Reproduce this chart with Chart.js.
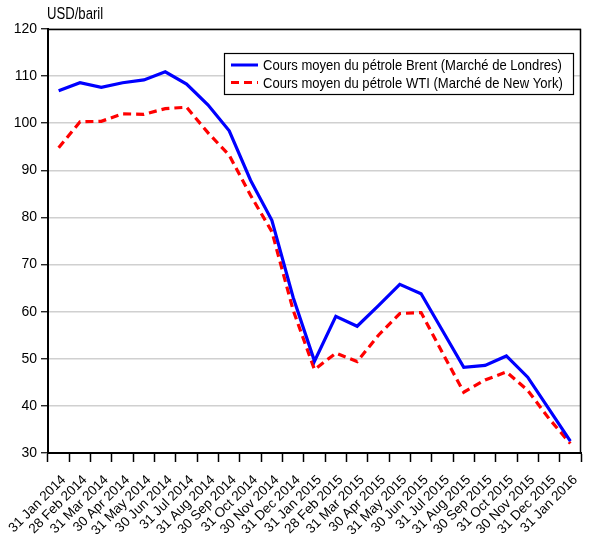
<!DOCTYPE html>
<html>
<head>
<meta charset="utf-8">
<script src="https://cdn.jsdelivr.net/npm/chart.js@4"></script>
<style>
  html, body { margin: 0; padding: 0; background: #fff; }
  #wrap { width: 590px; height: 542px; }
</style>
</head>
<body>
<div id="wrap"><canvas id="chart" width="590" height="542"></canvas></div>
<script>
// Month labels on the x axis
const months = [
  "31 Jan 2014", "28 Feb 2014", "31 Mar 2014", "30 Apr 2014", "31 May 2014",
  "30 Jun 2014", "31 Jul 2014", "31 Aug 2014", "30 Sep 2014", "31 Oct 2014",
  "30 Nov 2014", "31 Dec 2014", "31 Jan 2015", "28 Feb 2015", "31 Mar 2015",
  "30 Apr 2015", "31 May 2015", "30 Jun 2015", "31 Jul 2015", "31 Aug 2015",
  "30 Sep 2015", "31 Oct 2015", "30 Nov 2015", "31 Dec 2015", "31 Jan 2016"
];

// Average price, USD per barrel
const brent = [106.9, 108.6, 107.6, 108.6, 109.2, 110.9, 108.3, 103.9, 98.4, 87.9,
  79.4, 63.0, 49.5, 59.0, 56.9, 61.3, 65.8, 63.8, 56.0, 48.2, 48.6, 50.6, 46.1, 39.3, 32.5];
const wti = [94.8, 100.3, 100.4, 102.0, 101.9, 103.1, 103.4, 98.0, 93.2, 84.7,
  77.0, 60.3, 47.7, 51.2, 49.4, 55.0, 59.6, 59.8, 51.3, 42.9, 45.5, 47.2, 43.3, 37.3, 32.0];

const seriesNames = [
  "Cours moyen du pétrole Brent (Marché de Londres)",
  "Cours moyen du pétrole WTI (Marché de New York)"
];
const unitLabel = "USD/baril";

const sans = "'Liberation Sans', Arial, sans-serif";

// no narrow face installed, so hand-drawn text gets squeezed sideways
function narrowText(ctx, txt, x, y, sx) {
  ctx.save();
  ctx.translate(x, y);
  ctx.scale(sx, 1);
  ctx.fillText(txt, 0, 0);
  ctx.restore();
}

// Frame on top/right, legend box and unit label
const extras = {
  id: "extras",
  afterDraw(chart) {
    const ctx = chart.ctx;
    const a = chart.chartArea;
    ctx.save();
    ctx.strokeStyle = "#000";
    ctx.lineWidth = 1.5;
    ctx.beginPath();
    ctx.moveTo(a.left, a.top + 0.5);
    ctx.lineTo(a.right - 0.5, a.top + 0.5);
    ctx.lineTo(a.right - 0.5, a.bottom);
    ctx.stroke();

    // unit
    ctx.fillStyle = "#000";
    ctx.font = "16px " + sans;
    ctx.textBaseline = "alphabetic";
    ctx.textAlign = "left";
    narrowText(ctx, unitLabel, 47, 19, 0.82);

    // legend
    ctx.fillStyle = "#fff";
    ctx.fillRect(224, 53, 350, 42);
    ctx.strokeStyle = "#000";
    ctx.lineWidth = 1.2;
    ctx.strokeRect(224.5, 53.5, 349, 41);
    ctx.font = "15px " + sans;
    chart.data.datasets.forEach((d, i) => {
      const y = 65 + i * 17.5;
      ctx.strokeStyle = d.borderColor;
      ctx.lineWidth = 3;
      ctx.setLineDash(d.borderDash || []);
      ctx.beginPath();
      ctx.moveTo(231, y);
      ctx.lineTo(258, y);
      ctx.stroke();
      ctx.setLineDash([]);
      ctx.fillStyle = "#000";
      ctx.textBaseline = "middle";
      narrowText(ctx, d.label, 263, y + 1, 0.87);
    });
    ctx.restore();
  }
};

new Chart(document.getElementById("chart"), {
  type: "line",
  plugins: [extras],
  data: {
    labels: months,
    datasets: [
      {
        label: seriesNames[0],
        data: brent,
        borderColor: "#0000ff",
        borderWidth: 3.2,
        pointRadius: 0,
        tension: 0,
        fill: false
      },
      {
        label: seriesNames[1],
        data: wti,
        borderColor: "#ff0000",
        borderWidth: 3.2,
        borderDash: [8, 5],
        pointRadius: 0,
        tension: 0,
        fill: false
      }
    ]
  },
  options: {
    responsive: false,
    animation: false,
    layout: { padding: { top: 29, right: 9, left: 0, bottom: 0 } },
    plugins: {
      legend: { display: false },
      tooltip: { enabled: false }
    },
    scales: {
      x: {
        type: "category",
        offset: true,
        afterFit: (s) => {
          s.height = 89;
          s.paddingLeft = 0;
          s.paddingRight = 0;
        },
        grid: {
          offset: true,
          drawOnChartArea: false,
          drawTicks: true,
          tickLength: 9,
          tickColor: "#000",
          tickWidth: 1.5
        },
        border: { color: "#000", width: 2 },
        ticks: {
          autoSkip: false,
          minRotation: 45,
          maxRotation: 45,
          padding: 10,
          labelOffset: 5,
          color: "#000",
          font: { family: sans, size: 13.5 }
        }
      },
      y: {
        min: 30,
        max: 120,
        afterFit: (s) => { s.width = 48; },
        grid: {
          color: "#d0d0d0",
          lineWidth: 1.5,
          drawTicks: true,
          tickLength: 7,
          tickColor: "#000",
          tickWidth: 1.2
        },
        border: { color: "#000", width: 2 },
        ticks: {
          stepSize: 10,
          padding: 4,
          color: "#000",
          font: { family: sans, size: 14 }
        }
      }
    }
  }
});
</script>
</body>
</html>
